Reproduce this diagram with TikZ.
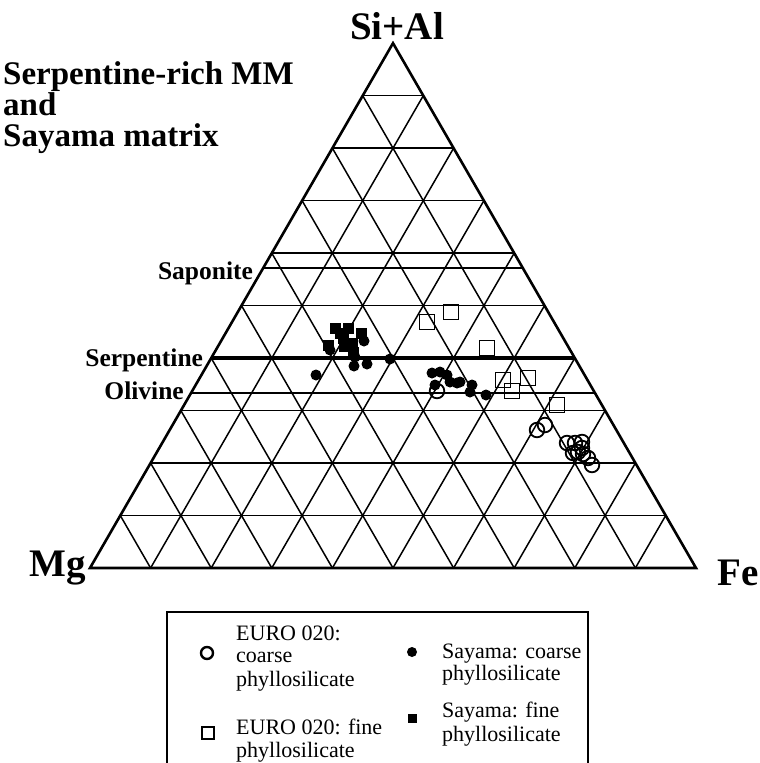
\documentclass[tikz,border=0pt]{standalone}
\usepackage{fontspec}
\setmainfont{Liberation Serif}
\usetikzlibrary{calc}

\tikzset{
  gridline/.style={line width=1.5pt},
  corner/.style={font=\fontsize{39}{40}\selectfont\bfseries, inner sep=0pt},
  phase/.style={font=\fontsize{25.5}{26}\selectfont\bfseries, inner sep=0pt, anchor=base east},
  legtext/.style={font=\fontsize{22}{23}\selectfont, inner sep=0pt, anchor=base west},
  opencirc/.style={line width=1.8pt},
  opensq/.style={line width=1.6pt},
}

\begin{document}
\begin{tikzpicture}[x=1pt, y=-1pt]

        \useasboundingbox (0,0) rectangle (760,763);

        % Corners of the triangle
        \coordinate (Mg) at (90,568);
        \coordinate (Fe) at (696,568);
        \coordinate (SiAl) at (393,43.2);

        % Grid, steps of 10 %
        \foreach \k in {1,...,9} {
            \draw[gridline] ($(Mg)!\k/10!(SiAl)$) -- ($(Fe)!\k/10!(SiAl)$);
            \draw[gridline] ($(Mg)!\k/10!(Fe)$) -- ($(SiAl)!\k/10!(Fe)$);
            \draw[gridline] ($(Mg)!\k/10!(Fe)$) -- ($(Mg)!\k/10!(SiAl)$);
        }

        % Outline
        \draw[line width=2.6pt, line join=miter] (Mg) -- (Fe) -- (SiAl) -- cycle;

        % Corner labels
        \node[corner, anchor=base] (siallab) at (397,39) {Si+Al};
        \node[corner, anchor=base east] (mglab) at (86,576) {Mg};
        \node[corner, anchor=base west] (felab) at (717,585) {Fe};

        % Title
        \node[font=\fontsize{33}{31}\selectfont\bfseries, inner sep=0pt,
              anchor=north west, align=left] (title) at (3,61)
            {Serpentine-rich MM\\and\\Sayama matrix};

        % Saponite, serpentine and olivine lines
        \draw[line width=2.4pt] ($(Mg)!4/7!(SiAl)$) coordinate (sap) -- ($(Fe)!4/7!(SiAl)$);
        \draw[line width=3.4pt] ($(Mg)!2/5!(SiAl)$) coordinate (srp) -- ($(Fe)!2/5!(SiAl)$);
        \draw[line width=2.2pt] ($(Mg)!1/3!(SiAl)$) coordinate (olv) -- ($(Fe)!1/3!(SiAl)$);
        \node[phase] (saplab) at ([xshift=-10pt, yshift=-11pt]sap) {Saponite};
        \node[phase] (srplab) at ([xshift=-8pt, yshift=-8pt]srp) {Serpentine};
        \node[phase] (olvlab) at ([xshift=-7pt, yshift=-6pt]olv) {Olivine};

        % EURO 020: fine phyllosilicate
        \foreach \x/\y in {427/322, 451/312, 487/348, 503/380, 528/378, 512/391, 557/405}
            \draw[opensq] (\x-7.5,\y-7.5) rectangle (\x+7.5,\y+7.5);

        % EURO 020: coarse phyllosilicate
        \foreach \x/\y in {437/391, 537/430, 545/425, 567/443, 575/443, 582/442,
                           578/452, 573/453, 583/454, 588/458, 592/465, 582/448}
            \draw[opencirc] (\x,\y) circle[radius=7.3];

        % Sayama: coarse phyllosilicate
        \foreach \x/\y in {316/375, 330/350, 364/341, 355/357, 354/366, 367/364, 390/359,
                           432/373, 440/372, 447/375, 435/385, 450/382, 457/383,
                           460/382, 472/385, 470/392, 486/395}
            \fill (\x,\y) circle[radius=5.5];

        % Sayama: fine phyllosilicate
        \foreach \x/\y in {335/328, 348/328, 361/333, 343/338, 352/343, 328/345,
                           353/352, 340/333, 344/346}
            \fill (\x-5.5,\y-5.5) rectangle (\x+5.5,\y+5.5);

        % Legend
        \draw[line width=1.4pt] (167,763) -- (167,612) -- (588,612) -- (588,763);

        \draw[line width=2.4pt] (207,653) circle[radius=6];
        \node[legtext] (euroc1) at (236,640) {EURO 020:};
        \node[legtext] (euroc2) at (236,662) {coarse};
        \node[legtext] (euroc3) at (236,686) {phyllosilicate};

        \draw[line width=1.2pt] (202,727) rectangle (214,739);
        \node[legtext] (eurof1) at (236,734) {EURO 020: fine};
        \node[legtext] (eurof2) at (236,757) {phyllosilicate};

        \fill (412,652) circle[radius=5];
        \node[legtext] (sayc1) at (442,658) {Sayama: coarse};
        \node[legtext] (sayc2) at (442,680) {phyllosilicate};

        \fill (407.5,713.5) rectangle (416.5,722.5);
        \node[legtext] (sayf1) at (442,717) {Sayama: fine};
        \node[legtext] (sayf2) at (442,741) {phyllosilicate};

    \end{tikzpicture}
\end{document}
